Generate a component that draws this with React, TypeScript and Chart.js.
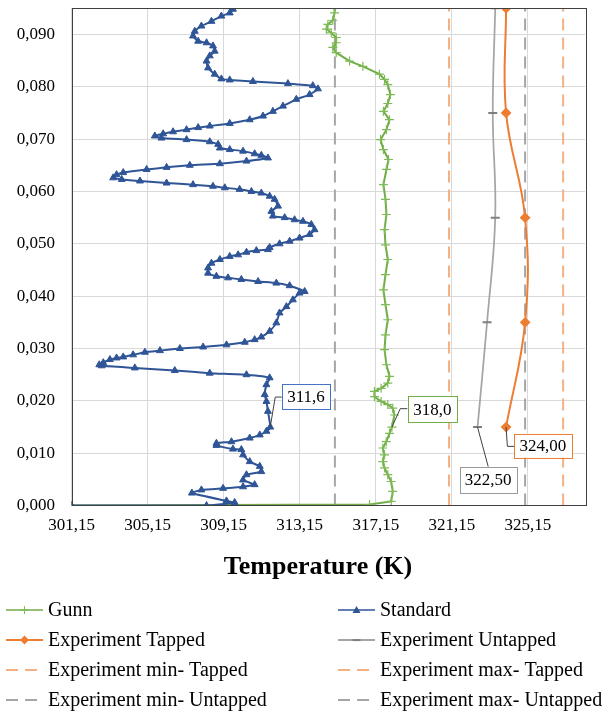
import React, { useEffect, useRef } from 'react';
import { Chart, registerables } from 'chart.js';

Chart.register(...registerables);

const FONT = "'Liberation Serif', 'Times New Roman', serif";

// Axis ranges and tick labels
const xMin = 301.15;
const xMax = 328.15;
const yMin = 0;
const yMax = 0.095;
const xTicks = [301.15, 305.15, 309.15, 313.15, 317.15, 321.15, 325.15];
const yTicks = [0, 0.01, 0.02, 0.03, 0.04, 0.05, 0.06, 0.07, 0.08, 0.09];
const xTitle = 'Temperature (K)';

// Series names
const seriesNames = [
  'Gunn',
  'Standard',
  'Experiment Tapped',
  'Experiment Untapped',
  'Experiment min- Tapped',
  'Experiment max- Tapped',
  'Experiment min- Untapped',
  'Experiment max- Untapped',
];

// Gunn: [temperature K, height]
const gunn: [number, number][] = [
  [301.15, 0], [316.82, 0.0002], [317.96, 0.0008], [318.04, 0.0027], [317.96, 0.0046],
  [317.78, 0.0059], [317.61, 0.0072], [317.52, 0.0084], [317.61, 0.0097], [317.52, 0.011],
  [317.7, 0.0122], [317.87, 0.0138], [318.0, 0.015], [318.13, 0.0173], [318.04, 0.0186],
  [317.78, 0.0193], [317.43, 0.0199], [317.08, 0.0208], [317.08, 0.0218], [317.43, 0.0224],
  [317.78, 0.0234], [317.87, 0.0247], [317.71, 0.0269], [317.61, 0.0298], [317.66, 0.0326],
  [317.78, 0.0355], [317.66, 0.0384], [317.55, 0.0412], [317.66, 0.0441], [317.78, 0.047],
  [317.66, 0.0498], [317.61, 0.0527], [317.71, 0.0556], [317.66, 0.0585], [317.55, 0.0613],
  [317.71, 0.0642], [317.82, 0.0661], [317.55, 0.068], [317.4, 0.0699], [317.71, 0.0718],
  [317.87, 0.0737], [317.55, 0.0753], [317.78, 0.0768], [317.92, 0.0785], [317.78, 0.0804],
  [317.61, 0.0814], [317.34, 0.0824], [316.47, 0.0839], [315.77, 0.0849], [315.07, 0.0865],
  [314.89, 0.0875], [315.07, 0.0884], [315.07, 0.0894], [314.81, 0.0903], [314.55, 0.091],
  [314.63, 0.0919], [314.89, 0.0927], [314.98, 0.0941], [314.98, 0.0954],
];

// Standard: [temperature K, height]
const standard: [number, number][] = [
  [301.15, 0], [308.25, 0], [309.73, 0.0006], [309.3, 0.0009], [307.48, 0.0024],
  [307.98, 0.003], [309.12, 0.0033], [310.17, 0.0036], [310.78, 0.004], [310.17, 0.0049],
  [310.35, 0.0059], [311.13, 0.0065], [311.05, 0.0075], [310.52, 0.0084], [310.17, 0.0097],
  [310.08, 0.0107], [309.64, 0.0108], [308.77, 0.0115], [308.77, 0.0119], [309.56, 0.0122],
  [310.52, 0.0129], [311.05, 0.0135], [311.4, 0.0142], [311.6, 0.015], [311.48, 0.018],
  [311.4, 0.0199], [311.31, 0.0212], [311.4, 0.0231], [311.57, 0.0244], [310.35, 0.025],
  [308.42, 0.0253], [306.58, 0.0258], [304.48, 0.0263], [302.74, 0.0267], [302.61, 0.0269],
  [302.82, 0.0273], [303.17, 0.0279], [303.52, 0.0282], [303.87, 0.0284], [304.39, 0.0288],
  [305.01, 0.0293], [305.8, 0.0296], [306.85, 0.03], [308.07, 0.0303], [309.3, 0.0307],
  [310.26, 0.0312], [310.78, 0.0317], [311.13, 0.0322], [311.57, 0.0333], [311.92, 0.0349],
  [312.09, 0.0368], [312.45, 0.038], [312.79, 0.0393], [313.14, 0.0406], [313.41, 0.0409],
  [312.62, 0.042], [311.92, 0.0425], [310.96, 0.0428], [310.08, 0.0432], [309.38, 0.0435],
  [308.77, 0.0438], [308.33, 0.0444], [308.33, 0.0454], [308.51, 0.0463], [308.95, 0.047],
  [309.47, 0.0476], [309.91, 0.0479], [310.35, 0.0484], [310.87, 0.0487], [311.48, 0.0489],
  [311.57, 0.0493], [312.09, 0.05], [312.62, 0.0505], [313.14, 0.0511], [313.67, 0.0518],
  [313.93, 0.0527], [313.76, 0.0537], [313.32, 0.0543], [312.88, 0.0546], [312.36, 0.055],
  [311.74, 0.0553], [311.66, 0.0562], [312.01, 0.0572], [311.83, 0.0585], [311.57, 0.0591],
  [311.13, 0.0597], [310.61, 0.06], [309.99, 0.0604], [309.21, 0.0607], [308.59, 0.061],
  [307.54, 0.0613], [306.15, 0.0616], [304.75, 0.062], [303.79, 0.0623], [303.34, 0.0626],
  [303.52, 0.0632], [303.87, 0.0636], [305.1, 0.0642], [306.15, 0.0646], [307.37, 0.065],
  [308.95, 0.0653], [310.35, 0.0658], [311.48, 0.0664], [311.13, 0.0669], [310.78, 0.0672],
  [310.17, 0.0677], [309.47, 0.068], [308.95, 0.0683], [308.86, 0.069], [308.42, 0.0695],
  [307.2, 0.0699], [305.88, 0.0702], [305.53, 0.0706], [305.97, 0.071], [306.49, 0.0714],
  [307.2, 0.0718], [307.81, 0.0722], [308.42, 0.0725], [309.47, 0.073], [310.52, 0.0737],
  [311.22, 0.0744], [311.74, 0.0753], [312.27, 0.0763], [312.97, 0.0776], [313.67, 0.0785],
  [314.11, 0.0796], [313.84, 0.0802], [312.53, 0.0806], [310.69, 0.081], [309.47, 0.0813],
  [309.03, 0.0815], [308.68, 0.0824], [308.33, 0.0836], [308.25, 0.0849], [308.42, 0.0859],
  [308.68, 0.0868], [308.59, 0.0878], [308.25, 0.0884], [307.81, 0.0887], [307.54, 0.0897],
  [307.63, 0.0906], [307.98, 0.0916], [308.51, 0.0925], [309.03, 0.0935], [309.47, 0.0941],
  [309.64, 0.0948], [309.3, 0.0953],
];

// Experiments
const expHeights = [0.015, 0.035, 0.055, 0.075, 0.095];
const expTapped = [324.0, 325.0, 325.0, 324.0, 324.0];
const expUntapped = [322.5, 323.0, 323.43, 323.3, 323.43];
const minTapped = 321.0;
const maxTapped = 327.0;
const minUntapped = 315.0;
const maxUntapped = 325.0;

// Data label targets (height of the labelled point, decimals shown)
const labelHeight = 0.015;
const labelDecimals = [1, 1, 2, 2];

const C = {
  green: '#70AD47',
  greenMark: '#7DBB55',
  blue: '#2F5597',
  orange: '#ED7D31',
  grey: '#A5A5A5',
  greyMark: '#7F7F7F',
  orangeLight: '#F4B183',
  greyDash: '#A6A6A6',
  grid: '#D9D9D9',
  border: '#404040',
};

const pts = (arr: [number, number][]) => arr.map(([x, y]) => ({ x, y }));
const expPts = (vals: number[]) => vals.map((x, i) => ({ x, y: expHeights[i] }));
const vline = (x: number) => [{ x, y: yMin }, { x, y: yMax }];

// label layout: leader path (relative to anchor) and box rect [dx, dy, w, h]
const labelLayout = [
  { ds: 1, color: '#4472C4', path: [[0, 0], [5, -30], [11.6, -30]], box: [11.6, -43.3, 48.3, 25] },
  { ds: 0, color: C.green, path: [[0, 0], [8.3, -18.4], [15.6, -18.4]], box: [15.6, -30.7, 49.4, 25.7] },
  { ds: 3, color: '#9A9A9A', path: [[0, 0], [10.7, 39.7]], box: [-18, 39.7, 57.4, 26] },
  { ds: 2, color: C.orange, path: [[0, 0], [1.3, 19.3], [8, 19.3]], box: [8, 6.6, 57.7, 24] },
];

function drawMarker(ctx: CanvasRenderingContext2D, kind: string, x: number, y: number) {
  ctx.save();
  ctx.setLineDash([]);
  if (kind === 'cross') {
    ctx.strokeStyle = C.greenMark;
    ctx.lineWidth = 1;
    ctx.beginPath();
    ctx.moveTo(x - 4, y); ctx.lineTo(x + 4, y);
    ctx.moveTo(x, y - 4); ctx.lineTo(x, y + 4);
    ctx.stroke();
  } else if (kind === 'triangle') {
    ctx.fillStyle = C.blue;
    ctx.beginPath();
    ctx.moveTo(x, y - 4); ctx.lineTo(x + 4, y + 3); ctx.lineTo(x - 4, y + 3);
    ctx.closePath();
    ctx.fill();
  } else if (kind === 'diamond') {
    ctx.fillStyle = C.orange;
    ctx.beginPath();
    ctx.moveTo(x, y - 4.5); ctx.lineTo(x + 4.5, y); ctx.lineTo(x, y + 4.5); ctx.lineTo(x - 4.5, y);
    ctx.closePath();
    ctx.fill();
  } else if (kind === 'dash') {
    ctx.strokeStyle = C.greyMark;
    ctx.lineWidth = 2;
    ctx.beginPath();
    ctx.moveTo(x - 4, y); ctx.lineTo(x + 4, y);
    ctx.stroke();
  }
  ctx.restore();
}

const legendItems = [
  { color: C.green, dash: [] as number[], marker: 'cross', width: 1.5 },
  { color: C.blue, dash: [] as number[], marker: 'triangle', width: 1.5 },
  { color: C.orange, dash: [] as number[], marker: 'diamond', width: 2 },
  { color: C.grey, dash: [] as number[], marker: 'dash', width: 2 },
  { color: C.orangeLight, dash: [12, 7], marker: '', width: 2 },
  { color: C.orangeLight, dash: [12, 7], marker: '', width: 2 },
  { color: C.greyDash, dash: [12, 7], marker: '', width: 2 },
  { color: C.greyDash, dash: [12, 7], marker: '', width: 2 },
];

const overlayPlugin = {
  id: 'overlay',
  afterDatasetsDraw(chart: any) {
    const ctx: CanvasRenderingContext2D = chart.ctx;
    const { left, right, top, bottom } = chart.chartArea;
    // plot border
    ctx.save();
    ctx.strokeStyle = C.border;
    ctx.lineWidth = 1;
    ctx.strokeRect(Math.round(left) + 0.5, Math.round(top) + 0.5, Math.round(right - left), Math.round(bottom - top));
    ctx.restore();

    // data labels
    labelLayout.forEach((lab, i) => {
      const ds = chart.data.datasets[lab.ds];
      const idx = ds.data.findIndex((p: any) => Math.abs(p.y - labelHeight) < 1e-9);
      if (idx < 0) return;
      const el = chart.getDatasetMeta(lab.ds).data[idx];
      const ax = el.x;
      const ay = el.y;
      const text = ds.data[idx].x.toFixed(labelDecimals[i]).replace('.', ',');
      ctx.save();
      ctx.strokeStyle = '#404040';
      ctx.lineWidth = 1;
      ctx.beginPath();
      lab.path.forEach(([dx, dy], k) => {
        if (k === 0) ctx.moveTo(ax + dx, ay + dy);
        else ctx.lineTo(ax + dx, ay + dy);
      });
      ctx.stroke();
      const [bx, by, bw, bh] = lab.box;
      ctx.fillStyle = '#FFFFFF';
      ctx.fillRect(ax + bx, ay + by, bw, bh);
      ctx.strokeStyle = lab.color;
      ctx.strokeRect(Math.round(ax + bx) + 0.5, Math.round(ay + by) + 0.5, Math.round(bw), Math.round(bh));
      ctx.fillStyle = '#000';
      ctx.font = `17px ${FONT}`;
      ctx.textAlign = 'center';
      ctx.textBaseline = 'middle';
      ctx.fillText(text, ax + bx + bw / 2, ay + by + bh / 2 + 1);
      ctx.restore();
    });
  },
  afterDraw(chart: any) {
    const ctx: CanvasRenderingContext2D = chart.ctx;
    const { left, bottom } = chart.chartArea;
    ctx.save();
    // axis title
    ctx.fillStyle = '#000';
    ctx.font = `bold 26px ${FONT}`;
    ctx.textAlign = 'center';
    ctx.textBaseline = 'middle';
    ctx.fillText(xTitle, left + 246.5, bottom + 61.5);

    // legend
    ctx.font = `20px ${FONT}`;
    ctx.textAlign = 'left';
    const colX = [6, 338];
    seriesNames.forEach((name, i) => {
      const item = legendItems[i];
      const col = i % 2;
      const row = Math.floor(i / 2);
      const y = bottom + 104.5 + row * 30;
      const x0 = colX[col];
      const x1 = x0 + 37;
      ctx.save();
      ctx.strokeStyle = item.color;
      ctx.lineWidth = item.width;
      ctx.setLineDash(item.dash);
      ctx.beginPath();
      ctx.moveTo(x0, y);
      ctx.lineTo(x1, y);
      ctx.stroke();
      ctx.restore();
      if (item.marker) drawMarker(ctx, item.marker, (x0 + x1) / 2, y);
      ctx.fillStyle = '#000';
      ctx.textBaseline = 'middle';
      ctx.fillText(name, x1 + 5, y + 1);
    });
    ctx.restore();
  },
};

export default function App() {
  const canvasRef = useRef<HTMLCanvasElement | null>(null);

  useEffect(() => {
    if (!canvasRef.current) return;
    const chart = new Chart(canvasRef.current, {
      type: 'line',
      data: {
        datasets: [
          {
            label: seriesNames[0],
            data: pts(gunn),
            borderColor: C.green,
            borderWidth: 2,
            pointStyle: 'cross',
            pointRadius: 4.5,
            pointBorderColor: C.greenMark,
            pointBorderWidth: 1.2,
            tension: 0,
            order: 1,
          },
          {
            label: seriesNames[1],
            data: pts(standard),
            borderColor: C.blue,
            backgroundColor: C.blue,
            borderWidth: 2,
            pointStyle: 'triangle',
            pointRadius: 4,
            pointBackgroundColor: C.blue,
            pointBorderColor: C.blue,
            pointBorderWidth: 1,
            tension: 0.15,
            order: 0,
          },
          {
            label: seriesNames[2],
            data: expPts(expTapped),
            borderColor: C.orange,
            borderWidth: 2,
            pointStyle: 'rectRot',
            pointRadius: 4,
            pointBackgroundColor: C.orange,
            pointBorderColor: C.orange,
            tension: 0.4,
            order: 2,
          },
          {
            label: seriesNames[3],
            data: expPts(expUntapped),
            borderColor: C.grey,
            borderWidth: 1.75,
            pointStyle: 'line',
            pointRadius: 4.5,
            pointBorderColor: C.greyMark,
            pointBorderWidth: 2,
            tension: 0.4,
            order: 3,
          },
          {
            label: seriesNames[4],
            data: vline(minTapped),
            borderColor: C.orangeLight,
            borderWidth: 2,
            borderDash: [12, 7],
            pointRadius: 0,
            order: 4,
          },
          {
            label: seriesNames[5],
            data: vline(maxTapped),
            borderColor: C.orangeLight,
            borderWidth: 2,
            borderDash: [12, 7],
            pointRadius: 0,
            order: 5,
          },
          {
            label: seriesNames[6],
            data: vline(minUntapped),
            borderColor: C.greyDash,
            borderWidth: 2,
            borderDash: [12, 7],
            pointRadius: 0,
            order: 6,
          },
          {
            label: seriesNames[7],
            data: vline(maxUntapped),
            borderColor: C.greyDash,
            borderWidth: 2,
            borderDash: [12, 7],
            pointRadius: 0,
            order: 7,
          },
        ],
      },
      options: {
        responsive: false,
        animation: false,
        devicePixelRatio: 1,
        parsing: false as any,
        normalized: true,
        layout: { padding: { left: 16.75, right: 25, top: 0, bottom: 177 } },
        plugins: {
          legend: { display: false },
          tooltip: { enabled: false },
          title: { display: false },
        },
        scales: {
          x: {
            type: 'linear',
            min: xMin,
            max: xMax,
            afterBuildTicks: (s: any) => {
              s.ticks = xTicks.map((v) => ({ value: v }));
            },
            ticks: {
              callback: (v: any) => Number(v).toFixed(2).replace('.', ','),
              color: '#000',
              font: { size: 17, family: FONT },
              padding: 0,
              maxRotation: 0,
              autoSkip: false,
            },
            grid: { color: C.grid, lineWidth: 1, drawTicks: true, tickLength: 10, tickColor: 'rgba(0,0,0,0)' },
            border: { display: false },
          },
          y: {
            type: 'linear',
            min: yMin,
            max: yMax,
            afterBuildTicks: (s: any) => {
              s.ticks = yTicks.map((v) => ({ value: v }));
            },
            ticks: {
              callback: (v: any) => Number(v).toFixed(3).replace('.', ','),
              color: '#000',
              font: { size: 17, family: FONT },
              padding: 0,
              autoSkip: false,
            },
            grid: { color: C.grid, lineWidth: 1, drawTicks: true, tickLength: 16.5, tickColor: 'rgba(0,0,0,0)' },
            border: { display: false },
          },
        },
      } as any,
      plugins: [overlayPlugin],
    });
    return () => chart.destroy();
  }, []);

  return (
    <canvas
      ref={canvasRef}
      width={610}
      height={715}
      style={{ position: 'fixed', left: 0, top: -2, width: 610, height: 715, display: 'block' }}
    />
  );
}
